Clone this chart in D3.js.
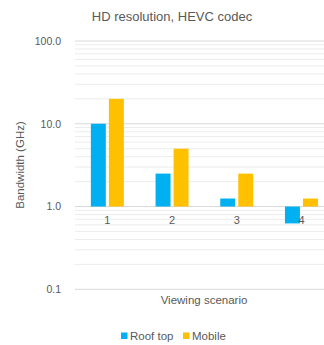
<!DOCTYPE html>
<html>
<head>
<meta charset="utf-8">
<script src="https://cdn.jsdelivr.net/npm/d3@7"></script>
<style>
  html, body { margin: 0; padding: 0; background: #fff; }
  svg { display: block; }
  text { font-family: "Liberation Sans", Arial, sans-serif; fill: #595959; }
</style>
</head>
<body>
<svg id="chart" width="324" height="345"></svg>
<script>
// Chart data
const categories = ["1", "2", "3", "4"];
const seriesNames = ["Roof top", "Mobile"];
const roofTop = [10, 2.5, 1.25, 0.625];
const mobile = [20, 5, 2.5, 1.25];
const yTicks = [0.1, 1, 10, 100];
const yTickLabels = ["0.1", "1.0", "10.0", "100.0"];
const colors = ["#00B0F0", "#FFC000"];

const svg = d3.select("#chart");

const plot = { left: 75, right: 333.8, top: 41, bottom: 289.3 };

const x = d3.scaleBand().domain(categories).range([plot.left, plot.right]).padding(0);
const xs = d3.scaleBand().domain(seriesNames).range([0, x.bandwidth()])
  .paddingInner(0.17).paddingOuter(0.88);
const y = d3.scaleLog().domain([0.1, 100]).range([plot.bottom, plot.top]);
const base = 1;

// Gridlines: minor at 2..9 of each decade, major at each power of ten
const minor = [];
[0.1, 1, 10].forEach(d => { for (let k = 2; k <= 9; k++) minor.push(d * k); });
svg.append("g").selectAll("line").data(minor).join("line")
  .attr("x1", plot.left).attr("x2", plot.right)
  .attr("y1", d => y(d)).attr("y2", d => y(d))
  .attr("stroke", "#ececec").attr("stroke-width", 1);
svg.append("g").selectAll("line").data(yTicks).join("line")
  .attr("x1", plot.left).attr("x2", plot.right)
  .attr("y1", d => y(d)).attr("y2", d => y(d))
  .attr("stroke", "#d9d9d9").attr("stroke-width", 1);

// Y axis tick labels
const yAxis = d3.axisLeft(y).tickValues(yTicks)
  .tickFormat((d, i) => yTickLabels[i]).tickSize(0).tickPadding(14);
const yg = svg.append("g").attr("transform", `translate(${plot.left},0)`).call(yAxis);
yg.select(".domain").remove();
yg.selectAll("text").style("font-size", "10.5px").attr("fill", "#595959")
  .style("font-family", "'Liberation Sans', Arial, sans-serif");

// Bars, anchored on the value-1 crossing line
const rows = categories.map((c, i) => ({ c, vals: [roofTop[i], mobile[i]] }));
const groups = svg.append("g").selectAll("g").data(rows).join("g")
  .attr("transform", d => `translate(${x(d.c)},0)`);
groups.selectAll("rect").data(d => d.vals.map((v, j) => ({ v, s: seriesNames[j], j })))
  .join("rect")
  .attr("x", d => xs(d.s))
  .attr("width", xs.bandwidth())
  .attr("y", d => Math.min(y(d.v), y(base)))
  .attr("height", d => Math.abs(y(d.v) - y(base)))
  .attr("fill", d => colors[d.j]);

// Category labels, sitting just below the crossing line
const xAxis = d3.axisBottom(x).tickSize(0).tickPadding(10);
const xg = svg.append("g").attr("transform", `translate(0,${y(base)})`).call(xAxis);
xg.select(".domain").remove();
xg.selectAll("text").style("font-size", "11px").attr("fill", "#595959")
  .style("font-family", "'Liberation Sans', Arial, sans-serif");

// Titles
svg.append("text").attr("x", 172).attr("y", 21).attr("text-anchor", "middle")
  .style("font-size", "13px").text("HD resolution, HEVC codec");
svg.append("text").attr("x", 204).attr("y", 304).attr("text-anchor", "middle")
  .style("font-size", "11.5px").text("Viewing scenario");
svg.append("text").attr("transform", "translate(24,165) rotate(-90)")
  .attr("text-anchor", "middle").style("font-size", "11.5px").text("Bandwidth (GHz)");

// Legend
const legendX = [121, 183];
const lg = svg.append("g").selectAll("g").data(seriesNames).join("g")
  .attr("transform", (d, i) => `translate(${legendX[i]},332.5)`);
lg.append("rect").attr("width", 6.5).attr("height", 6.5).attr("fill", (d, i) => colors[i]);
lg.append("text").attr("x", 9).attr("y", 7).style("font-size", "11.5px").text(d => d);
</script>
</body>
</html>
